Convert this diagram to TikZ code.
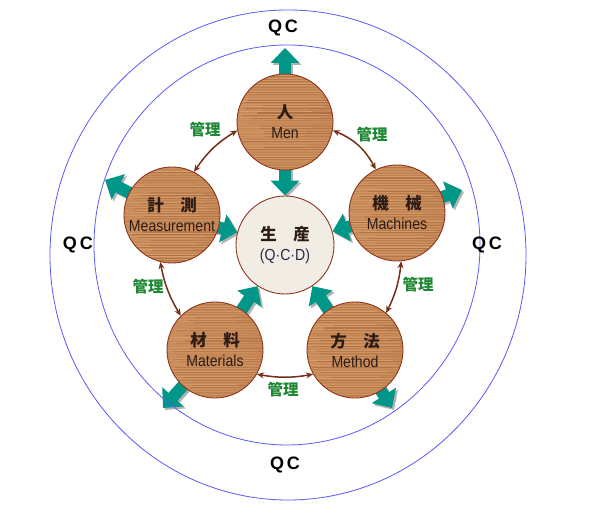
\documentclass[tikz,border=0pt]{standalone}
\usepackage{fontspec}
\setmainfont{Liberation Sans}
\newfontfamily\latfont[FakeStretch=0.88]{Liberation Sans}
\newfontfamily\cjk{Noto Sans CJK JP}
\usetikzlibrary{arrows.meta,backgrounds}

\definecolor{qcblue}{RGB}{90,90,245}
\definecolor{woodfill}{RGB}{200,138,88}
\definecolor{wooddark}{RGB}{150,88,48}
\definecolor{woodlight}{RGB}{228,180,130}
\definecolor{woodedge}{RGB}{140,55,30}
\definecolor{prodfill}{RGB}{241,237,229}
\definecolor{arrowteal}{RGB}{0,150,136}
\definecolor{mgmtgreen}{RGB}{30,135,50}
\definecolor{mgmtbrown}{RGB}{115,45,25}
\definecolor{labeltext}{RGB}{45,28,22}

\tikzset{
  wood/.style={circle, draw=woodedge, line width=0.9pt, fill=woodfill,
    minimum size=96pt, inner sep=0pt, align=center, text=labeltext,
    font=\fontsize{16}{20}\selectfont,
    path picture={
      \foreach \k in {1,...,38}{
        \pgfmathsetmacro{\wop}{0.1+0.4*rnd}
        \pgfmathsetmacro{\wlw}{0.3+1.1*rnd}
        \pgfmathsetmacro{\wx}{30*rnd}
        \draw[wooddark, opacity=\wop, line width=\wlw pt]
          ([yshift={-2.6pt*\k}, xshift={\wx pt}]path picture bounding box.north west) --
          ([yshift={-2.6pt*\k}]path picture bounding box.north east);
        \draw[woodlight, opacity=\wop, line width=0.5pt]
          ([yshift={-2.6pt*\k+1.3pt}]path picture bounding box.north west) --
          ([yshift={-2.6pt*\k+1.3pt}, xshift={-\wx pt}]path picture bounding box.north east);
      }}},
  prodbox/.style={circle, draw=woodedge, line width=0.9pt, fill=prodfill,
    minimum size=98pt, inner sep=0pt, align=center, text=labeltext,
    font=\fontsize{16}{20}\selectfont},
  flow/.style={line width=12pt, arrowteal,
    -{Triangle[length=15pt,width=28pt]}, shorten <=-6pt},
  flowshadow/.style={flow, draw=black!30, transform canvas={shift={(2pt,-2pt)}}},
  mgmt/.style={mgmtbrown, line width=1.5pt,
    {Stealth[length=7pt,width=6pt]}-{Stealth[length=7pt,width=6pt]}},
  mgmtlabel/.style={text=mgmtgreen, font=\cjk\bfseries\fontsize{15.5}{18}\selectfont},
  qclabel/.style={font=\bfseries\fontsize{18}{20}\selectfont}
}

\begin{document}
\begin{tikzpicture}[x=1pt,y=1pt]
  \pgfmathsetseed{7}
  \useasboundingbox (0,0) rectangle (590,505);
  %% QC rings
  \draw[qcblue, line width=0.8pt] (288,250) ellipse [x radius=238, y radius=245];
  \draw[qcblue, line width=0.8pt] (287,260) ellipse [x radius=193, y radius=200];
  \node[qclabel] (qctop) at (283,477) {Q\hspace{3pt}C};
  \node[qclabel] (qcbottom) at (285,40) {Q\hspace{3pt}C};
  \node[qclabel] (qcleft) at (78,260) {Q\hspace{3pt}C};
  \node[qclabel] (qcright) at (487,260) {Q\hspace{3pt}C};
  %% Factors
  \node[prodbox] (prod) at (285,260) {{\cjk\bfseries\fontsize{16.5}{20}\selectfont 生　産}\\{\latfont\color[RGB]{40,40,70}(Q·C·D)}};
  \node[wood] (men) at (285,383) {{\cjk\bfseries\fontsize{16.5}{20}\selectfont 人}\\{\latfont Men}};
  \node[wood] (meas) at (172,290) {{\cjk\bfseries\fontsize{16.5}{20}\selectfont 計　測}\\{\latfont Measurement}};
  \node[wood] (mach) at (397,292) {{\cjk\bfseries\fontsize{16.5}{20}\selectfont 機　械}\\{\latfont Machines}};
  \node[wood] (mat) at (215,155) {{\cjk\bfseries\fontsize{16.5}{20}\selectfont 材　料}\\{\latfont Materials}};
  \node[wood] (meth) at (355,155) {{\cjk\bfseries\fontsize{16.5}{20}\selectfont 方　法}\\{\latfont Method}};
  %% Arrow tips on the inner ring
  \coordinate (menout) at (285,457);
  \coordinate (measout) at (105,325);
  \coordinate (machout) at (462,315);
  \coordinate (matout) at (163,97);
  \coordinate (methout) at (392,97);
  %% Teal block arrows
  \begin{scope}[on background layer]
    \foreach \src/\dst in {men/prod, meas/prod, mach/prod, mat/prod, meth/prod,
        men/menout, meas/measout, mach/machout, mat/matout, meth/methout}
      \draw[flowshadow] (\src) -- (\dst);
    \foreach \src/\dst in {men/prod, meas/prod, mach/prod, mat/prod, meth/prod,
        men/menout, meas/measout, mach/machout, mat/matout, meth/methout}
      \draw[flow] (\src) -- (\dst);
  \end{scope}
  %% Management links
  \draw[mgmt] (meas.63) to[bend left=12] (men.190);
  \draw[mgmt] (men.350) to[bend left=20] (mach.116);
  \draw[mgmt] (mach.275) to[bend left=10] (meth.50);
  \draw[mgmt] (meth.210) to[bend left=10] (mat.330);
  \draw[mgmt] (mat.135) to[bend left=10] (meas.256);
  \node[mgmtlabel] (kanri1) at (205,375) {管理};
  \node[mgmtlabel] (kanri2) at (372,370) {管理};
  \node[mgmtlabel] (kanri3) at (148,218) {管理};
  \node[mgmtlabel] (kanri4) at (418,220) {管理};
  \node[mgmtlabel] (kanri5) at (283,115) {管理};
\end{tikzpicture}
\end{document}
